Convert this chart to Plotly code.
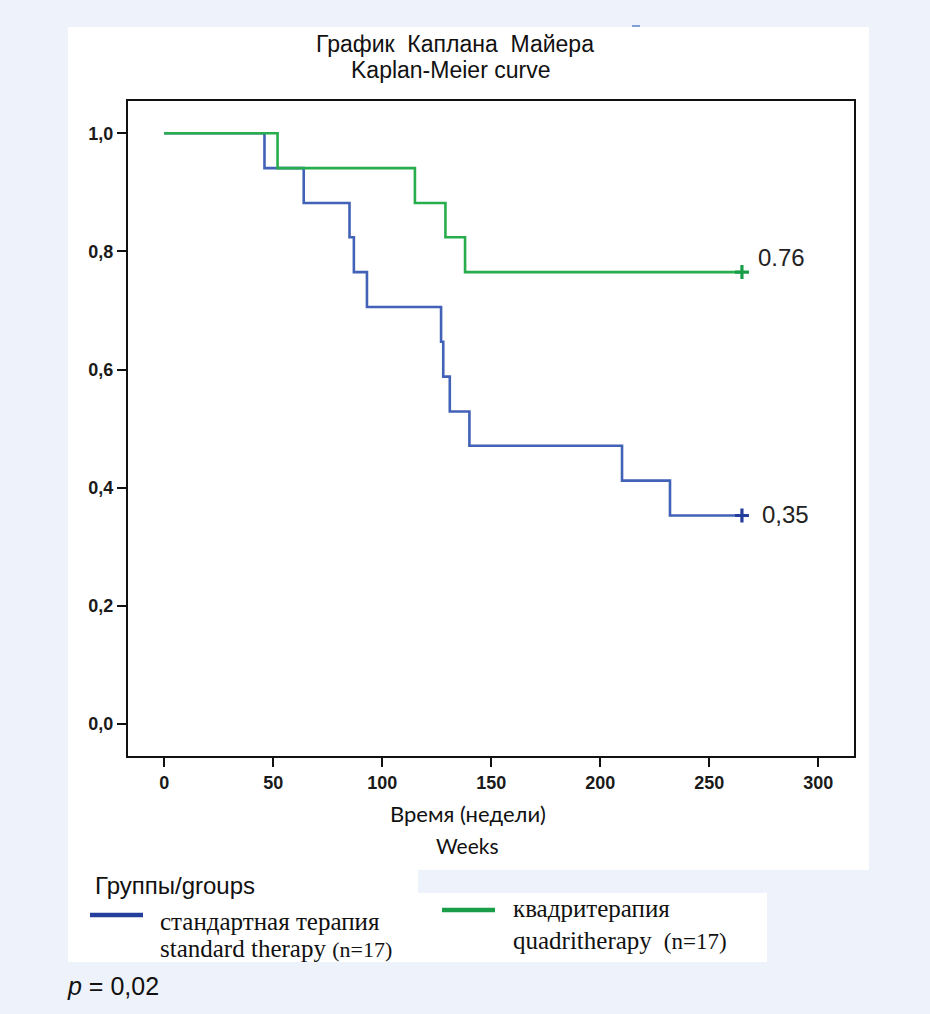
import plotly.graph_objects as go

W, H = 930, 1014

# ---- data ----
std_time = [0, 46, 64, 85, 87, 93, 127, 128, 131, 140, 210, 232, 265]
std_surv = [1.0, 0.941, 0.882, 0.824, 0.765, 0.706, 0.647, 0.588, 0.529, 0.471, 0.412, 0.353, 0.353]
std_censor_t = [265]
std_censor_s = [0.353]

quad_time = [0, 52, 115, 129, 138, 265]
quad_surv = [1.0, 0.941, 0.882, 0.824, 0.765, 0.765]
quad_censor_t = [265]
quad_censor_s = [0.765]

x_ticks = [0, 50, 100, 150, 200, 250, 300]
y_ticks = [0.0, 0.2, 0.4, 0.6, 0.8, 1.0]
y_ticktext = ["0,0", "0,2", "0,4", "0,6", "0,8", "1,0"]

BLUE = "#4162b6"
GREEN = "#27ad4c"
LEG_BLUE = "#233e9c"
LEG_GREEN = "#1a9d48"
BG = "#eef2fa"


def px(x):
    return x / W


def py(y):
    return 1 - y / H


fig = go.Figure()
fig.add_trace(go.Scatter(x=std_time, y=std_surv, mode="lines", line_shape="hv",
                         line=dict(color=BLUE, width=2.6), name="standard therapy",
                         showlegend=False, hoverinfo="skip"))
fig.add_trace(go.Scatter(x=quad_time, y=quad_surv, mode="lines", line_shape="hv",
                         line=dict(color=GREEN, width=2.6), name="quadritherapy",
                         showlegend=False, hoverinfo="skip"))
fig.add_trace(go.Scatter(x=std_censor_t, y=std_censor_s, mode="markers",
                         marker=dict(symbol="cross-thin", size=10, line=dict(color=LEG_BLUE, width=3.2)),
                         showlegend=False, hoverinfo="skip"))
fig.add_trace(go.Scatter(x=quad_censor_t, y=quad_censor_s, mode="markers",
                         marker=dict(symbol="cross-thin", size=10, line=dict(color=LEG_GREEN, width=3.2)),
                         showlegend=False, hoverinfo="skip"))

tickfont = dict(family="Liberation Sans, Arial", size=18, color="#1a1a1a", weight="bold")

fig.update_layout(
    width=W, height=H,
    margin=dict(l=0, r=0, t=0, b=0),
    paper_bgcolor=BG,
    plot_bgcolor="white",
    xaxis=dict(domain=[px(128), px(854)], range=[-16.6, 316.4],
               tickvals=x_ticks, ticks="outside", ticklen=9, tickwidth=2, tickcolor="#111",
               showline=True, linecolor="#111", linewidth=2, mirror=True,
               showgrid=False, zeroline=False, tickfont=tickfont, fixedrange=True),
    yaxis=dict(domain=[py(756), py(101)], range=[-0.0542, 1.0547],
               tickvals=y_ticks, ticktext=y_ticktext, ticks="outside", ticklen=9, tickwidth=2,
               tickcolor="#111", showline=True, linecolor="#111", linewidth=2, mirror=True,
               showgrid=False, zeroline=False, tickfont=tickfont, fixedrange=True),
    showlegend=False,
)

shapes = [
    # upper white panel
    dict(type="rect", xref="paper", yref="paper", x0=px(68), x1=px(869), y0=py(870), y1=py(27),
         fillcolor="white", line=dict(width=0), layer="below"),
    # legend white boxes
    dict(type="rect", xref="paper", yref="paper", x0=px(68), x1=px(418), y0=py(962), y1=py(869),
         fillcolor="white", line=dict(width=0), layer="below"),
    dict(type="rect", xref="paper", yref="paper", x0=px(417), x1=px(767), y0=py(962), y1=py(893),
         fillcolor="white", line=dict(width=0), layer="below"),
    # legend line samples
    dict(type="line", xref="paper", yref="paper", x0=px(90), x1=px(143), y0=py(915), y1=py(915),
         line=dict(color=LEG_BLUE, width=4.5)),
    dict(type="line", xref="paper", yref="paper", x0=px(442), x1=px(495), y0=py(910), y1=py(910),
         line=dict(color=LEG_GREEN, width=4.5)),
    # small mark at the top
    dict(type="line", xref="paper", yref="paper", x0=px(632), x1=px(640), y0=py(26), y1=py(26),
         line=dict(color="#7d9fd4", width=2)),
]
fig.update_layout(shapes=shapes)

sans = "Liberation Sans, Arial"
serif = "Liberation Serif, Times New Roman"
ann = []


def add(text, x, y, size, family=sans, xanchor="center", color="#111", **kw):
    ann.append(dict(text=text, x=px(x), y=py(y), xref="paper", yref="paper",
                    xanchor=xanchor, yanchor="middle", showarrow=False,
                    font=dict(family=family, size=size, color=color), **kw))


add("График\u00a0\u00a0Каплана\u00a0\u00a0Майера", 455, 44, 23)
add("Kaplan-Meier curve", 450, 70, 23)
add("Время (недели)", 468, 813, 22, family="Lato, Liberation Sans")
add("Weeks", 468, 845, 21, family="Lato, Liberation Sans")
add("Группы/groups", 93, 885, 24, xanchor="left")
add("стандартная терапия", 158, 921, 25, family=serif, xanchor="left")
add("standard therapy <span style='font-size:22px'>(n=17)</span>", 158, 948, 25, family=serif, xanchor="left")
add("квадритерапия", 511, 908, 25, family=serif, xanchor="left")
add("quadritherapy <span style='font-size:23px'> (n=17)</span>", 511, 940, 25, family=serif, xanchor="left")
add("<i>p</i> = 0,02", 65, 986, 25, xanchor="left")

# value labels near the censor marks (data coordinates)
ann.append(dict(text="0.76", x=271.5, y=0.789, xref="x", yref="y", xanchor="left", yanchor="middle",
                showarrow=False, font=dict(family=sans, size=24, color="#222")))
ann.append(dict(text="0,35", x=273.5, y=0.355, xref="x", yref="y", xanchor="left", yanchor="middle",
                showarrow=False, font=dict(family=sans, size=24, color="#222")))

fig.update_layout(annotations=ann)

fig.write_html("out.html")
